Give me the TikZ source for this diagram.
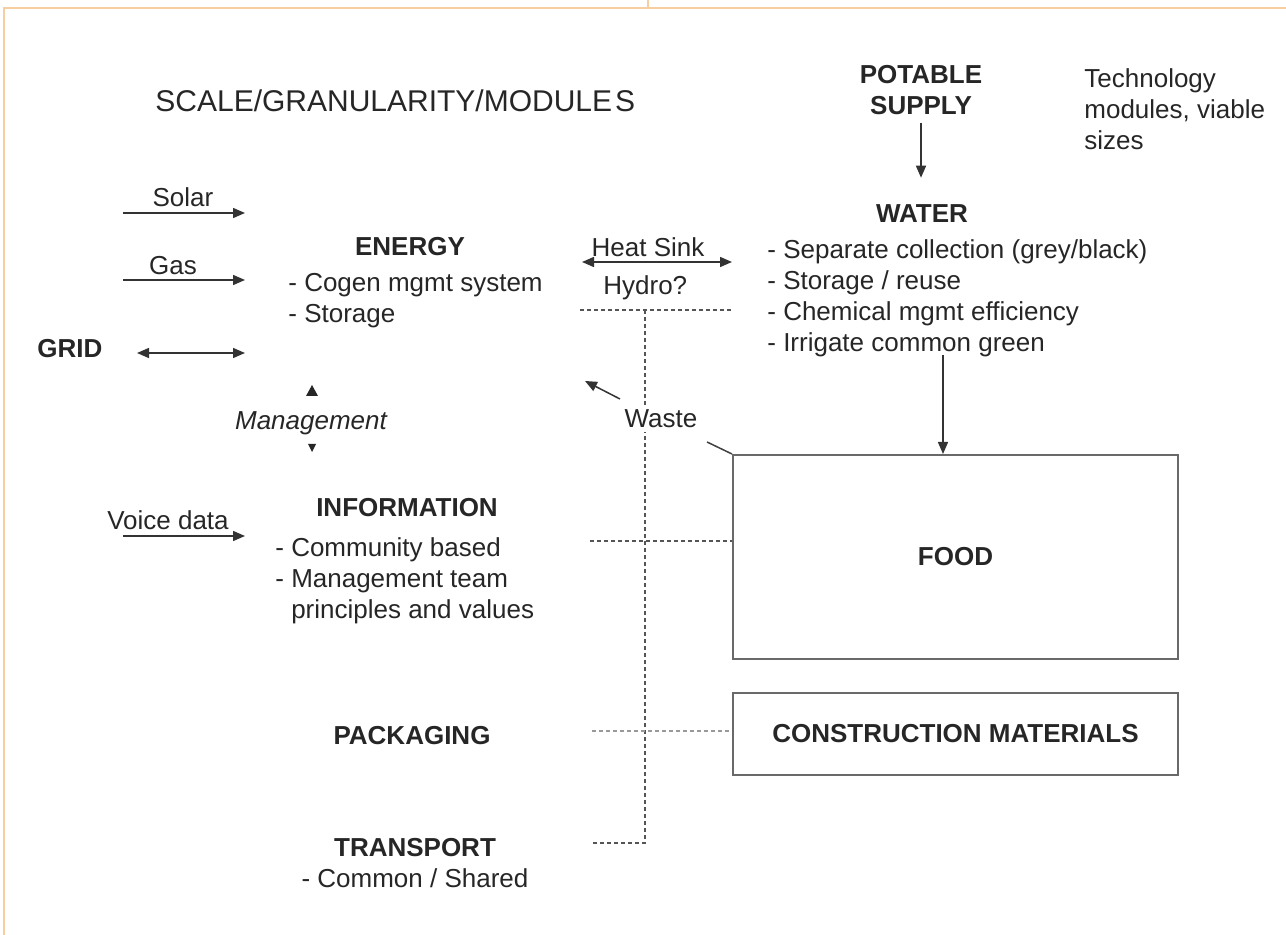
\documentclass[tikz,border=0pt]{standalone}
\usepackage{fontspec}
\setmainfont{Liberation Sans}
\usetikzlibrary{arrows.meta}

\definecolor{frameorange}{RGB}{247,206,160}
\definecolor{linegrey}{RGB}{85,85,85}
\definecolor{boxgrey}{RGB}{105,105,105}
\newcommand\bodyfont{\fontsize{13}{15.5}\selectfont}

\begin{document}
\begin{tikzpicture}[x=0.5pt, y=-0.5pt,
    every node/.style = {inner sep=0pt, text=black!85, font=\bodyfont},
    head/.style = {font=\bodyfont\bfseries, anchor=base},
    label/.style = {anchor=base},
    list/.style = {align=left, anchor=base west},
    flow/.style = {draw=black!80, line width=0.75pt,
      -{Triangle[length=6pt,width=5pt]}},
    both/.style = {flow, {Triangle[length=6pt,width=5pt]}-{Triangle[length=6pt,width=5pt]}},
    link/.style = {draw=linegrey, line width=0.6pt, dash pattern=on 2pt off 1.5pt},
    module/.style = {draw=boxgrey, line width=1pt, font=\bodyfont\bfseries}]

  \useasboundingbox (0,0) rectangle (1286,935);
  % page frame
  \draw[frameorange, line width=1pt] (4,935) -- (4,8) -- (1286,8);
  \draw[frameorange, line width=1pt] (648,0) -- (648,8);

  % shared links (drawn first, labels sit on top)
  \node[module, minimum width=222.5pt, minimum height=102pt] (food) at (955.5,557) {FOOD};
  \node[module, minimum width=222.5pt, minimum height=41pt] (constr) at (955.5,734) {CONSTRUCTION MATERIALS};
  \coordinate (hydrotap) at (580,310);
  \coordinate (hub) at (645,310);
  \coordinate (foodtap) at (590,541);
  \coordinate (packtap) at (592,731);
  \coordinate (transtap) at (590,843);
  \draw[link] (hydrotap) -- (733,310);
  \draw[link] (hub) -- (hub |- transtap) -- (transtap);
  \draw[link] (foodtap) -- (foodtap -| food.west);
  \draw[link, draw=black!40] (packtap) -- (packtap -| constr.west);

  \node[font=\fontsize{15}{18}\selectfont, anchor=base west] (title) at (155,112)
    {SCALE/GRANULARITY/MODULE\kern1.5pt S};

  % water side (base of a list = its last line)
  \node[head, align=center] (potable) at (921,115) {POTABLE\\SUPPLY};
  \node[list] (tech) at (1084,150) {Technology\\modules, viable\\sizes};
  \node[head] (water) at (922,223) {WATER};
  \node[list] (waterlist) at (767,352)
    {- Separate collection (grey/black)\\- Storage / reuse\\- Chemical mgmt efficiency\\- Irrigate common green};
  \draw[flow, shorten <=3.5pt, shorten >=13.5pt] (potable.south) -- (potable.south |- water.north);
  \coordinate (waterout) at (943,355);
  \draw[flow] (waterout) -- (waterout |- food.north);

  % energy side
  \node[head] (energy) at (410,256) {ENERGY};
  \node[list] (energylist) at (288,323) {- Cogen mgmt system\\- Storage};
  \coordinate (solarin) at (123,213);  \coordinate (solarout) at (245,213);
  \coordinate (gasin) at (123,280);    \coordinate (gasout) at (245,280);
  \coordinate (gridin) at (137,353);   \coordinate (gridout) at (245,353);
  \draw[flow] (solarin) -- (solarout);
  \draw[flow] (gasin) -- (gasout);
  \draw[both] (gridin) -- (gridout);
  \node[label] (solar) at (183,207) {Solar};
  \node[label] (gas) at (173,275) {Gas};
  \node[head] (grid) at (70,358) {GRID};

  \coordinate (sinkleft) at (582,262); \coordinate (sinkright) at (732,262);
  \draw[both] (sinkleft) -- (sinkright);
  \node[label] (heatsink) at (648,257) {Heat Sink};
  \node[anchor=base west] (hydro) at (603,295) {Hydro?};

  % management
  \fill[black!85] (306,396) -- (318,396) -- (312,385) -- cycle;
  \fill[black!85] (308,444) -- (316,444) -- (312,452) -- cycle;
  \node[label, font=\bodyfont\itshape] (mgmt) at (311,430) {Management};

  % waste
  \node[label, fill=white, inner sep=2pt] (waste) at (661,428) {Waste};
  \coordinate (wastetail) at (620,399); \coordinate (wastehead) at (585,381);
  \draw[flow] (wastetail) -- (wastehead);
  \coordinate (wastefood) at (707,442);
  \draw[draw=black!75, line width=0.75pt] (wastefood) -- (food.north west);

  % information
  \node[head] (info) at (407,517) {INFORMATION};
  \node[list] (infolist) at (275,618)
    {- Community based\\- Management team\\\hphantom{- }principles and values};
  \coordinate (voicein) at (123,536); \coordinate (voiceout) at (245,536);
  \draw[flow] (voicein) -- (voiceout);
  \node[label] (voice) at (168,530) {Voice data};

  \node[head] (packaging) at (412,744) {PACKAGING};
  \node[head] (transport) at (415,856) {TRANSPORT};
  \node[label] (shared) at (415,887) {- Common / Shared};
\end{tikzpicture}
\end{document}
